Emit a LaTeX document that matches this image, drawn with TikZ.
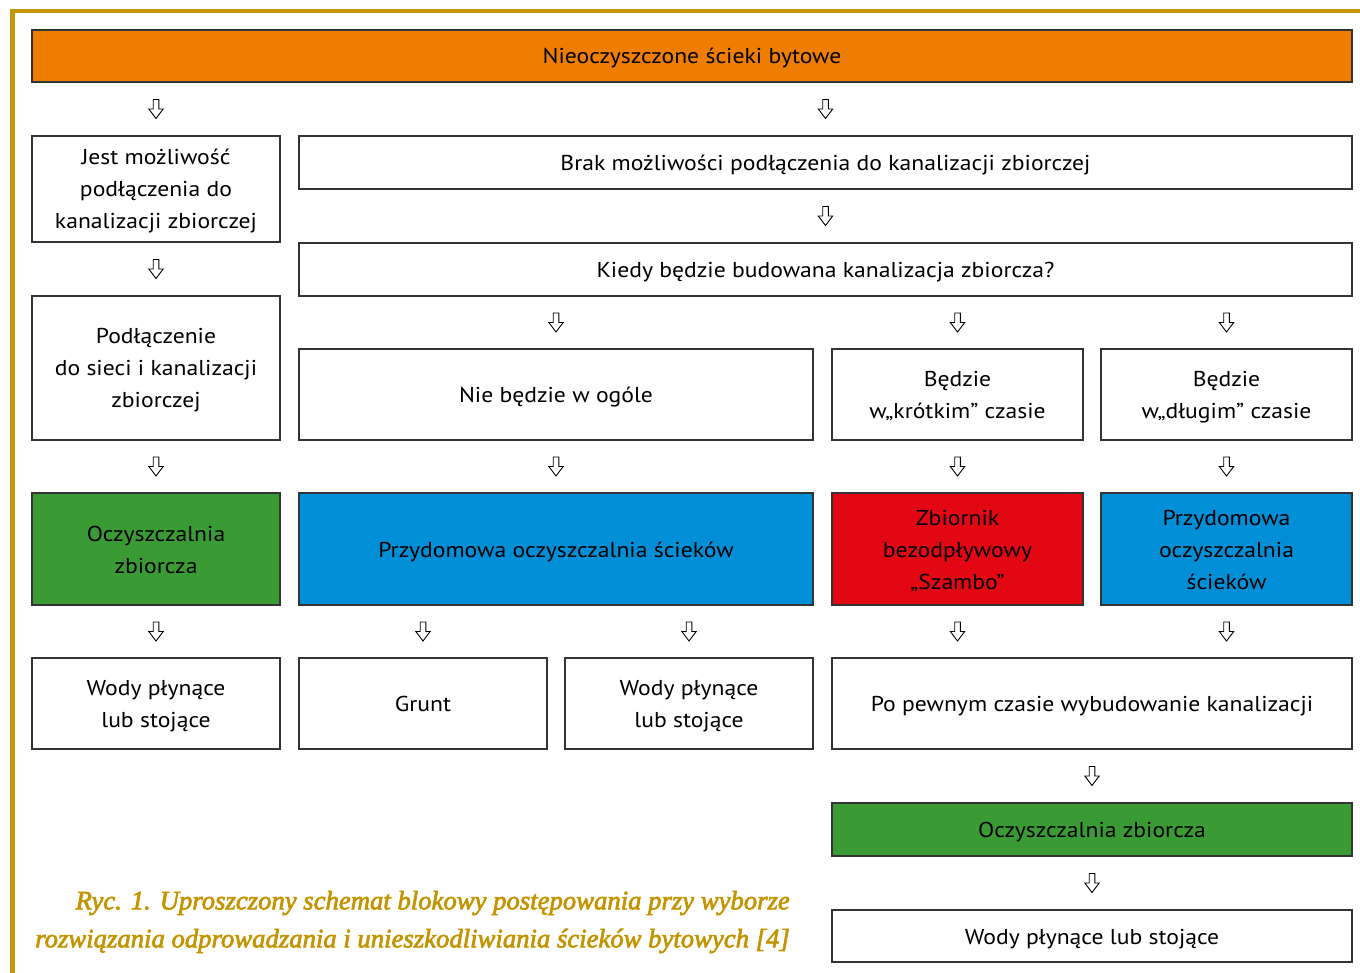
\documentclass[tikz,border=0pt]{standalone}
\usepackage{fontspec}
\setmainfont{PT Sans}[FakeStretch=1.1]
\newfontfamily\capfont{Liberation Serif}[ItalicFeatures={FakeBold=2.5}]
\usetikzlibrary{calc}
\definecolor{gold}{HTML}{C4960A}
\definecolor{capgold}{HTML}{C39400}
\definecolor{orangeF}{HTML}{EF7D00}
\definecolor{greenF}{HTML}{3A9B35}
\definecolor{blueF}{HTML}{008FD7}
\definecolor{redF}{HTML}{E30613}
\definecolor{edge}{HTML}{333333}
\newcommand\hs{\rule{0pt}{21pt}}
\newcommand\ds{\rule[-5pt]{0pt}{5pt}}
\tikzset{
  box/.style={draw=edge, line width=1.4pt, rectangle, align=center, inner sep=2pt,
    font=\fontsize{21.5}{32}\selectfont, text=black},
  harrow/.pic={\draw[line width=0.9pt, line join=miter] (-2.8,-9.5) -- (2.8,-9.5) -- (2.8,0) -- (7.2,0) -- (0,9.5) -- (-7.2,0) -- (-2.8,0) -- cycle;}
}
\newcommand\arr[2]{\pic at ($(#2.north)!0.5!(#2.north |- #1.south)$) {harrow};}
\newcommand\arrS[2]{\pic at ($(#1.south)!0.5!(#1.south |- #2.north)$) {harrow};}
\begin{document}
\begin{tikzpicture}[x=1pt,y=-1pt]
\useasboundingbox (0,0) rectangle (1360,973);
\fill[gold] (10,9) rectangle (1360,13);
\fill[gold] (10,9) rectangle (15,973);

\node[box, fill=orangeF, minimum width=1320, minimum height=52] (top) at (692,56) {\hs Nieoczyszczone ścieki bytowe\ds};
\node[box, minimum width=248, minimum height=106] (jest) at (156,189) {\hs Jest możliwość\\podłączenia do\\kanalizacji zbiorczej\ds};
\node[box, minimum width=1053, minimum height=53] (brak) at (825.5,162.5) {\hs Brak możliwości podłączenia do kanalizacji zbiorczej\ds};
\node[box, minimum width=1053, minimum height=53] (kiedy) at (825.5,269.5) {\hs Kiedy będzie budowana kanalizacja zbiorcza?\ds};
\node[box, minimum width=248, minimum height=144] (podl) at (156,368) {\hs Podłączenie\\do sieci i kanalizacji\\zbiorczej\ds};
\node[box, minimum width=514, minimum height=91] (nie) at (556,394.5) {\hs Nie będzie w ogóle\ds};
\node[box, minimum width=251, minimum height=91] (krot) at (957.5,394.5) {\hs Będzie\\w„krótkim” czasie\ds};
\node[box, minimum width=251, minimum height=91] (dlug) at (1226.5,394.5) {\hs Będzie\\w„długim” czasie\ds};
\node[box, fill=greenF, minimum width=248, minimum height=112] (oczA) at (156,549) {\hs Oczyszczalnia\\zbiorcza\ds};
\node[box, fill=blueF, minimum width=514, minimum height=112] (przA) at (556,549) {\hs Przydomowa oczyszczalnia ścieków\ds};
\node[box, fill=redF, minimum width=251, minimum height=112] (zbior) at (957.5,549) {\hs Zbiornik\\bezodpływowy\\„Szambo”\ds};
\node[box, fill=blueF, minimum width=251, minimum height=112] (przB) at (1226.5,549) {\hs Przydomowa\\oczyszczalnia\\ścieków\ds};
\node[box, minimum width=248, minimum height=91] (wodyA) at (156,703.5) {\hs Wody płynące\\lub stojące\ds};
\node[box, minimum width=248, minimum height=91] (grunt) at (423,703.5) {\hs Grunt\ds};
\node[box, minimum width=248, minimum height=91] (wodyB) at (689,703.5) {\hs Wody płynące\\lub stojące\ds};
\node[box, minimum width=520, minimum height=91] (po) at (1092,703.5) {\hs Po pewnym czasie wybudowanie kanalizacji\ds};
\node[box, fill=greenF, minimum width=520, minimum height=53] (oczB) at (1092,829.5) {\hs Oczyszczalnia zbiorcza\ds};
\node[box, minimum width=520, minimum height=52] (wodyC) at (1092,936) {\hs Wody płynące lub stojące\ds};

\arr{top}{jest}
\arr{top}{brak}
\arr{brak}{kiedy}
\arr{jest}{podl}
\arr{kiedy}{nie}
\arr{kiedy}{krot}
\arr{kiedy}{dlug}
\arr{podl}{oczA}
\arr{nie}{przA}
\arr{krot}{zbior}
\arr{dlug}{przB}
\arr{oczA}{wodyA}
\arr{przA}{grunt}
\arr{przA}{wodyB}
\arrS{zbior}{po}
\arrS{przB}{po}
\arr{po}{oczB}
\arr{oczB}{wodyC}

\node[anchor=east, align=right, text=capgold, font=\capfont\itshape\fontsize{26.7}{38}\selectfont, inner sep=0pt] (cap) at (790,922) {Ryc. 1. Uproszczony schemat blokowy postępowania przy wyborze\\rozwiązania odprowadzania i unieszkodliwiania ścieków bytowych [4]};
\end{tikzpicture}
\end{document}
